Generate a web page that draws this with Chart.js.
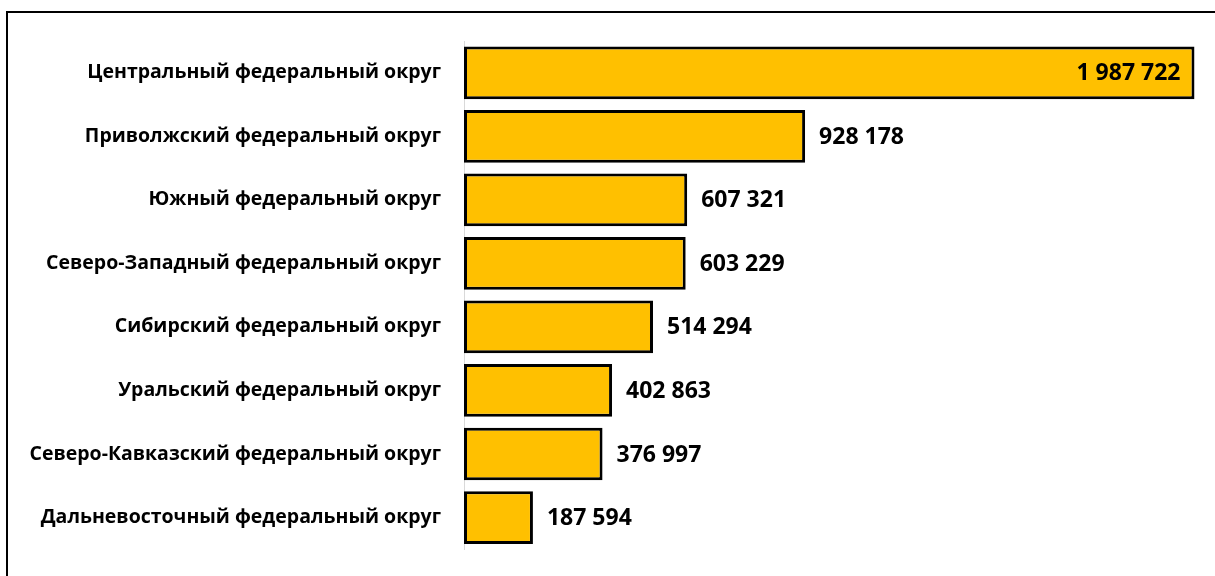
<!DOCTYPE html>
<html>
<head>
<meta charset="utf-8">
<script src="https://cdn.jsdelivr.net/npm/chart.js@4.4.0/dist/chart.umd.min.js"></script>
<style>
  html, body { margin: 0; padding: 0; background: #fff; }
  #wrap { position: relative; width: 1215px; height: 576px; overflow: hidden; }
  #frame { position: absolute; left: 6px; top: 11px; width: 1300px; height: 700px;
           border-left: 2px solid #000; border-top: 2px solid #000; box-sizing: border-box; }
  canvas { position: absolute; left: 0; top: 0; }
</style>
</head>
<body>
<div id="wrap">
  <div id="frame"></div>
  <canvas id="c" width="1215" height="576"></canvas>
</div>
<script>
const categories = [
  "Центральный федеральный округ",
  "Приволжский федеральный округ",
  "Южный федеральный округ",
  "Северо-Западный федеральный округ",
  "Сибирский федеральный округ",
  "Уральский федеральный округ",
  "Северо-Кавказский федеральный округ",
  "Дальневосточный федеральный округ"
];
const values = [1987722, 928178, 607321, 603229, 514294, 402863, 376997, 187594];

const FONT = "'Open Sans', sans-serif";

function fmt(v) {
  return String(v).replace(/\B(?=(\d{3})+(?!\d))/g, " ");
}

const valueLabels = {
  id: 'valueLabels',
  afterDatasetsDraw(chart) {
    const ctx = chart.ctx;
    const meta = chart.getDatasetMeta(0);
    ctx.save();
    ctx.font = "bold 23px " + FONT;
    ctx.fillStyle = "#000";
    ctx.textBaseline = "middle";
    meta.data.forEach((bar, i) => {
      const txt = fmt(values[i]);
      if (bar.x > chart.chartArea.right - 150) {
        ctx.textAlign = "right";
        ctx.fillText(txt, bar.x - 14, bar.y + 1);
      } else {
        ctx.textAlign = "left";
        ctx.fillText(txt, bar.x + 14, bar.y + 1);
      }
    });
    ctx.restore();
  }
};

new Chart(document.getElementById('c'), {
  type: 'bar',
  data: {
    labels: categories,
    datasets: [{
      data: values,
      backgroundColor: '#FFC000',
      borderColor: '#000000',
      borderWidth: 3,
      borderSkipped: false,
      barPercentage: 0.83,
      categoryPercentage: 1.0
    }]
  },
  options: {
    indexAxis: 'y',
    responsive: false,
    animation: false,
    layout: { padding: { left: 0, right: 16, top: 41, bottom: 23 } },
    plugins: { legend: { display: false }, tooltip: { enabled: false } },
    scales: {
      x: { display: false, min: 0, max: 2000000 },
      y: {
        grid: { display: false },
        border: { display: true, color: '#d9d9d9', width: 1 },
        ticks: {
          color: '#000',
          padding: 15,
          font: { family: FONT, size: 19.5, weight: 'bold' }
        },
        afterFit(scale) { scale.width = 464; }
      }
    }
  },
  plugins: [valueLabels]
});
</script>
</body>
</html>
